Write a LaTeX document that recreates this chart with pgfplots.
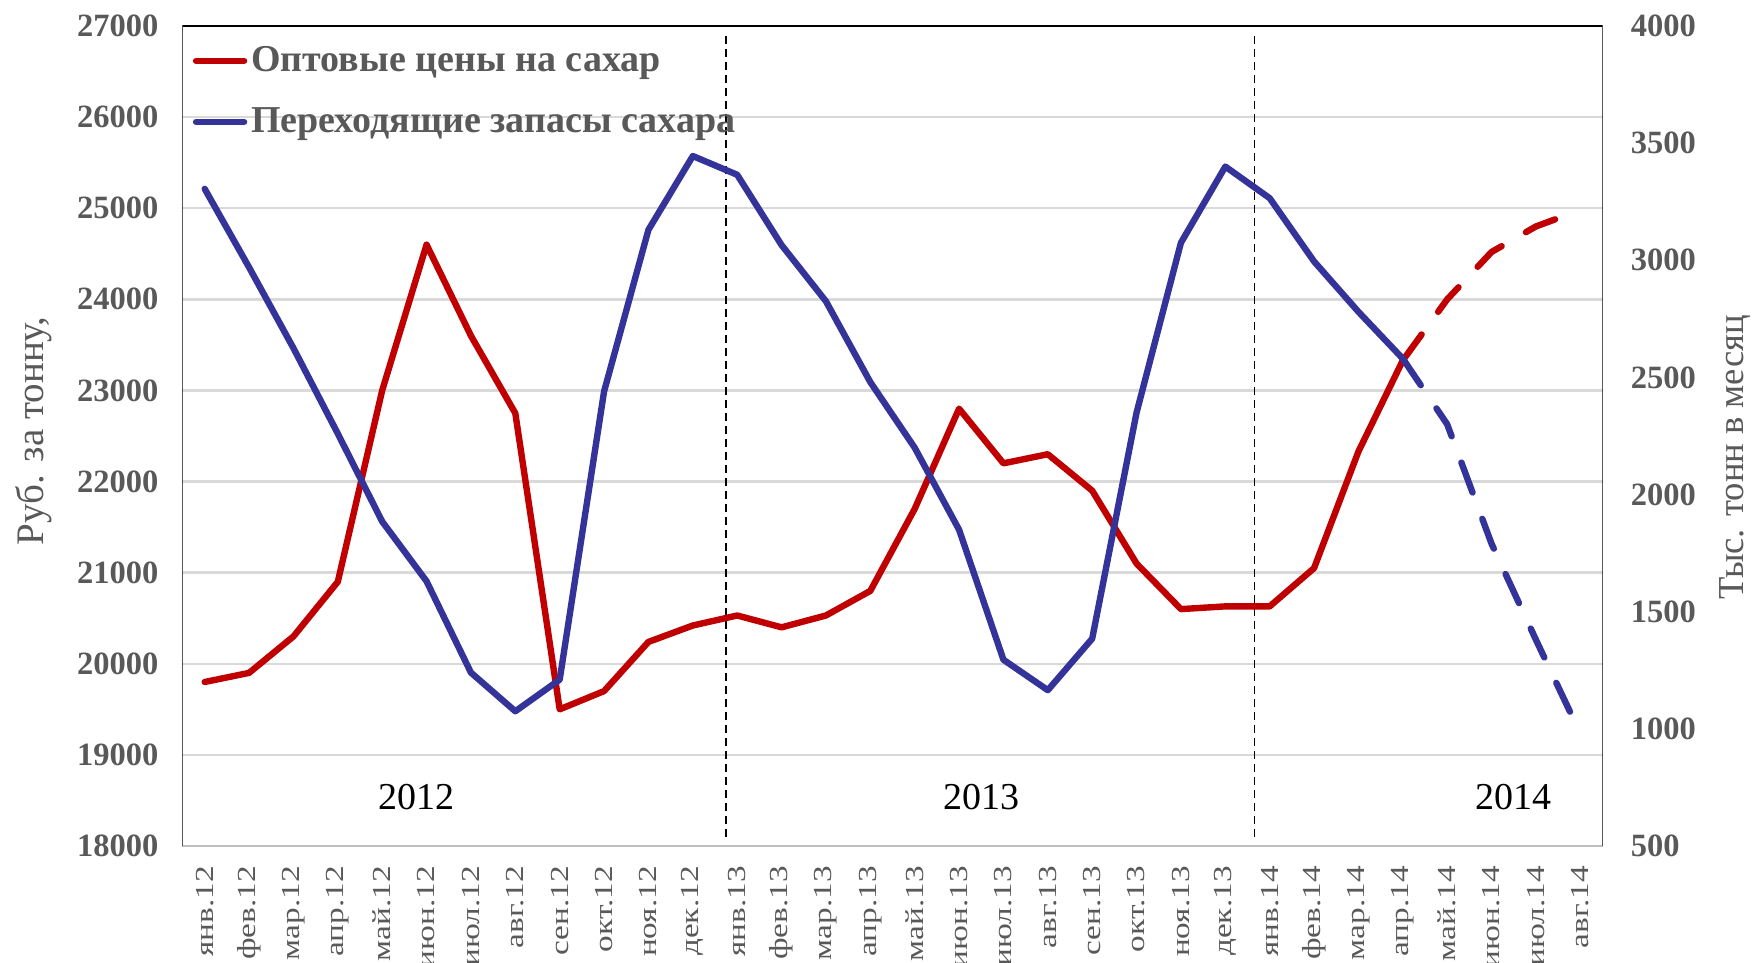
\documentclass[border=0pt]{standalone}
\usepackage{pgfplots}
\pgfplotsset{compat=1.18}
\usepackage{fontspec}
\setmainfont{Liberation Serif}
\newfontfamily\ticklab[FakeStretch=1.28]{Liberation Serif}
\definecolor{tred}{HTML}{C00000}
\definecolor{tblue}{HTML}{333399}
\definecolor{tgray}{HTML}{595959}
\definecolor{tgrid}{HTML}{D9D9D9}
\definecolor{tbase}{HTML}{BFBFBF}
\pgfplotstableread{
x y
0 19800
1 19900
2 20300
3 20900
4 23000
5 24600
6 23600
7 22750
8 19500
9 19700
10 20240
11 20420
12 20530
13 20400
14 20530
15 20800
16 21700
17 22800
18 22200
19 22300
20 21900
21 21100
22 20600
23 20630
24 20630
25 21050
26 22330
27 23330
}\redsolid
\pgfplotstableread{
x y
27 23330
28 24000
29 24520
30 24800
31 24980
}\reddash
\pgfplotstableread{
x y
0 3305
1 2970
2 2625
3 2260
4 1885
5 1630
6 1240
7 1075
8 1210
9 2440
10 3130
11 3445
12 3365
13 3065
14 2825
15 2480
16 2200
17 1850
18 1295
19 1165
20 1385
21 2350
22 3075
23 3400
24 3265
25 2995
26 2780
27 2580
}\bluesolid
\pgfplotstableread{
x y
27 2580
28 2300
29 1790
30 1380
31 980
}\bluedash
\begin{document}
\begin{tikzpicture}
\path[use as bounding box] (-91.25pt,-58.5pt) rectangle (786.25pt,423pt);
\begin{axis}[
  at={(0,0)}, anchor=south west,
  scale only axis, width=710pt, height=410pt,
  xmin=-0.5, xmax=31.5, ymin=18000, ymax=27000,
  xtick={0,...,31},
  xticklabels={янв.12,фев.12,мар.12,апр.12,май.12,июн.12,июл.12,авг.12,сен.12,окт.12,ноя.12,дек.12,янв.13,фев.13,мар.13,апр.13,май.13,июн.13,июл.13,авг.13,сен.13,окт.13,ноя.13,дек.13,янв.14,фев.14,мар.14,апр.14,май.14,июн.14,июл.14,авг.14},
  ytick={18000,19000,...,27000},
  scaled y ticks=false,
  xtick pos=bottom, ytick pos=left,
  ymajorgrids, grid style={tgrid, line width=1.2pt},
  axis line style={draw=none},
  major tick length=0pt, tick style={draw=none},
  /pgf/number format/assume math mode=true,
  /pgf/number format/set thousands separator={},
  yticklabel style={font=\bfseries\fontsize{16.25}{18}\selectfont, text=tgray},
  yticklabel shift=8.5pt,
  xticklabel style={font=\ticklab\fontsize{13}{15}\selectfont, text=tgray, rotate=90, anchor=east},
  xticklabel shift=6.6pt,
  ylabel={Руб. за тонну,},
  ylabel style={font=\fontsize{19.5}{22}\selectfont, text=tgray, at={(axis description cs:-0.105,0.506)}, anchor=center, rotate=0},
  legend style={at={(axis description cs:0,1)}, anchor=north west, draw=none, fill=none,
    font=\bfseries\fontsize{19}{22}\selectfont, text=tgray, row sep=12.5pt, xshift=2pt, yshift=-6.2pt},
  legend cell align=left,
  legend image code/.code={\draw[#1, line width=3.2pt, line cap=round] (0pt,0pt) -- (24pt,0pt);},
]
\draw[tbase, line width=1.3pt] (rel axis cs:0,0) -- (rel axis cs:1,0);
\draw[black, line width=0.75pt] (rel axis cs:0,0) -- (rel axis cs:0,1) -- (rel axis cs:1,1) -- (rel axis cs:1,0);
\addplot[black, line width=0.8pt, dash pattern=on 4pt off 2.5pt, forget plot] coordinates {(11.75,18100) (11.75,26930)};
\addplot[black, line width=0.8pt, dash pattern=on 4pt off 2.5pt, forget plot] coordinates {(23.66,18100) (23.66,26930)};
\addplot[tred, line width=3.2pt, line cap=round, line join=round] table[x=x,y=y] {\redsolid};
\addlegendentry{Оптовые цены на сахар}
\addplot[tred, line width=3.2pt, line cap=round, line join=round, dash pattern=on 16pt off 14pt, forget plot] table[x=x,y=y] {\reddash};
\addlegendimage{tblue, line width=3.2pt}
\addlegendentry{Переходящие запасы сахара}
\node[font=\fontsize{19}{22}\selectfont] at (axis cs:4.78,18540) {2012};
\node[font=\fontsize{19}{22}\selectfont] at (axis cs:17.5,18540) {2013};
\node[font=\fontsize{19}{22}\selectfont] at (axis cs:29.5,18540) {2014};
\end{axis}
\begin{axis}[
  at={(0,0)}, anchor=south west,
  scale only axis, width=710pt, height=410pt,
  xmin=-0.5, xmax=31.5, ymin=500, ymax=4000,
  xtick=\empty,
  ytick={500,1000,...,4000},
  ytick pos=right, yticklabel pos=right,
  axis line style={draw=none},
  major tick length=0pt, tick style={draw=none},
  /pgf/number format/assume math mode=true,
  /pgf/number format/set thousands separator={},
  yticklabel style={font=\bfseries\fontsize{16.25}{18}\selectfont, text=tgray},
  yticklabel shift=10.6pt,
  ylabel={Тыс. тонн в месяц},
  ylabel style={font=\fontsize{18.3}{21}\selectfont, text=tgray, at={(axis description cs:1.0933,0.474)}, anchor=center, rotate=0},
]
\addplot[tblue, line width=3.2pt, line cap=round, line join=round] table[x=x,y=y] {\bluesolid};
\addplot[tblue, line width=3.2pt, line cap=round, line join=round, dash pattern=on 16pt off 14pt] table[x=x,y=y] {\bluedash};
\end{axis}
\end{tikzpicture}
\end{document}
